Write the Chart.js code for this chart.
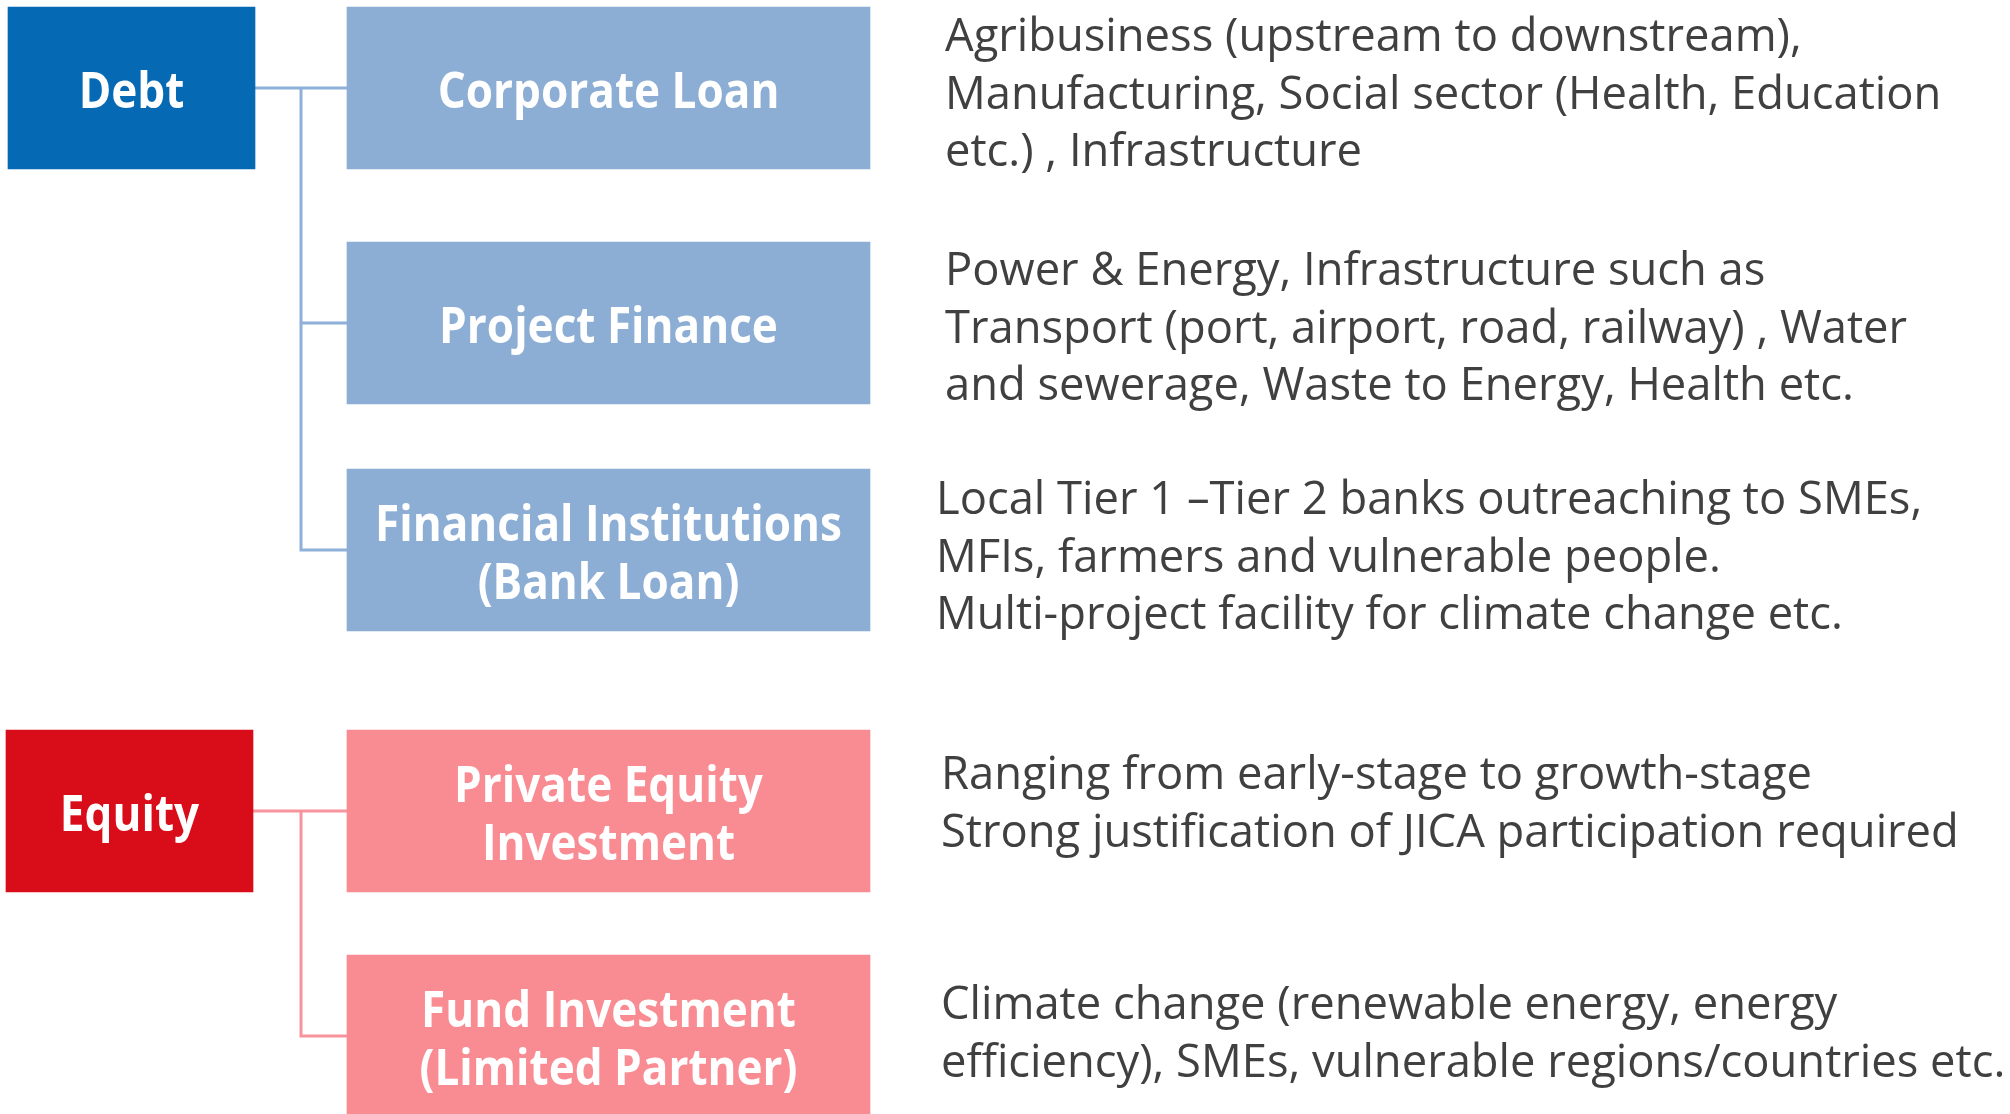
<!DOCTYPE html>
<html>
<head>
<meta charset="utf-8">
<script src="https://cdn.jsdelivr.net/npm/chart.js@4.4.1/dist/chart.umd.min.js"></script>
<style>
  html, body { margin: 0; padding: 0; background: #fff; }
  #wrap { width: 2010px; height: 1114px; }
</style>
</head>
<body>
<div id="wrap"><canvas id="chart" width="2010" height="1114"></canvas></div>
<script>
// boxes: two parents (Debt, Equity) and five children
const parentLabels = ["Debt", "Equity"];
const parentRows = [88, 811];
const parentLeft = [8, 6];
const parentRight = [255, 253];

const childLabels = [
  "Corporate Loan",
  "Project Finance",
  "Financial Institutions\n(Bank Loan)",
  "Private Equity\nInvestment",
  "Fund Investment\n(Limited Partner)",
];
const childRows = [88, 323, 550, 811, 1036];
const childParent = [0, 0, 0, 1, 1];
const childSpan = [347, 870];

// text to the right of each child box
const descriptions = [
  ["Agribusiness (upstream to downstream),", "Manufacturing, Social sector (Health, Education", "etc.) , Infrastructure"],
  ["Power & Energy, Infrastructure such as", "Transport (port, airport, road, railway) , Water", "and sewerage, Waste to Energy, Health etc."],
  ["Local Tier 1 \u2013Tier 2 banks outreaching to SMEs,", "MFIs, farmers and vulnerable people.", "Multi-project facility for climate change etc."],
  ["Ranging from early-stage to growth-stage", "Strong justification of JICA participation required"],
  ["Climate change (renewable energy, energy", "efficiency), SMEs, vulnerable regions/countries etc."],
];
const descX = [945, 945, 936, 941, 941];
const descBaseline = [51, 285, 514, 789, 1019];

const parentColors = ["#0569b4", "#d90c19"];
const childColors = ["#8daed4", "#f98b92"];
const lineColors = ["#8eb0d9", "#f7949b"];
const FONT = "'Open Sans', 'Noto Sans', sans-serif";

const boxes = [];
parentLabels.forEach((label, i) => {
  boxes.push({ y: parentRows[i], x: [parentLeft[i], parentRight[i]], label, color: parentColors[i] });
});
childLabels.forEach((label, i) => {
  boxes.push({ y: childRows[i], x: childSpan.slice(), label, color: childColors[childParent[i]] });
});

// elbow connectors: parent -> trunk -> each child
const trunkX = 301;
const connectors = parentLabels.map((_, p) => {
  const pts = [{ x: parentRight[p], y: parentRows[p] }, { x: trunkX, y: parentRows[p] }];
  childRows.forEach((row, i) => {
    if (childParent[i] !== p) return;
    pts.push({ x: trunkX, y: row });
    pts.push({ x: childSpan[0] + 2, y: row });
    pts.push({ x: trunkX, y: row });
  });
  return {
    type: "line",
    data: pts,
    borderColor: lineColors[p],
    borderWidth: 3,
    pointRadius: 0,
    tension: 0,
    fill: false,
    order: 2,
  };
});

const fitSize = (ctx, weight, text, target) => {
  ctx.font = `${weight} 100px ${FONT}`;
  return (100 * target) / ctx.measureText(text).width;
};

const textPlugin = {
  id: "boxText",
  afterDatasetsDraw(chart) {
    const ctx = chart.ctx;
    const { x: xs, y: ys } = chart.scales;
    const labelSize = fitSize(ctx, "bold", "Financial Institutions", 467);
    const descSize = fitSize(ctx, "normal", "Strong justification of JICA participation required", 1018);
    const lh = 57.5;
    const stretch = 1.15; // box titles are taller and narrower in the original

    ctx.save();
    ctx.textBaseline = "alphabetic";
    ctx.textAlign = "center";
    ctx.fillStyle = "#ffffff";
    ctx.font = `bold ${labelSize}px ${FONT}`;
    chart.getDatasetMeta(0).data.forEach((bar, i) => {
      const lines = boxes[i].label.split("\n");
      const cx = (bar.x + bar.base) / 2;
      const first = bar.y + 20 - ((lines.length - 1) * lh) / 2;
      lines.forEach((t, k) => {
        ctx.save();
        ctx.translate(cx, first + k * lh);
        ctx.scale(1, stretch);
        ctx.fillText(t, 0, 0);
        ctx.restore();
      });
    });

    ctx.textAlign = "left";
    ctx.fillStyle = "#404040";
    ctx.font = `normal ${descSize}px ${FONT}`;
    descriptions.forEach((lines, i) => {
      const px = xs.getPixelForValue(descX[i]);
      lines.forEach((t, k) => ctx.fillText(t, px, ys.getPixelForValue(descBaseline[i] + k * lh)));
    });
    ctx.restore();
  },
};

const draw = () => {
  new Chart(document.getElementById("chart"), {
    type: "bar",
    data: {
      datasets: [
        {
          type: "bar",
          indexAxis: "y",
          data: boxes.map((b) => ({ x: b.x, y: b.y })),
          backgroundColor: boxes.map((b) => b.color),
          borderWidth: 0,
          barThickness: 162,
          order: 1,
        },
        ...connectors,
      ],
    },
    options: {
      responsive: false,
      animation: false,
      devicePixelRatio: 1,
      layout: { padding: 0 },
      scales: {
        x: { type: "linear", min: 0, max: 2010, offset: false, display: false },
        y: { type: "linear", min: 0, max: 1114, reverse: true, offset: false, display: false },
      },
      plugins: {
        legend: { display: false },
        tooltip: { enabled: false },
      },
    },
    plugins: [textPlugin],
  });
};

Promise.all([
  document.fonts.load(`bold 40px 'Open Sans'`),
  document.fonts.load(`40px 'Open Sans'`),
]).then(draw, draw);
</script>
</body>
</html>
